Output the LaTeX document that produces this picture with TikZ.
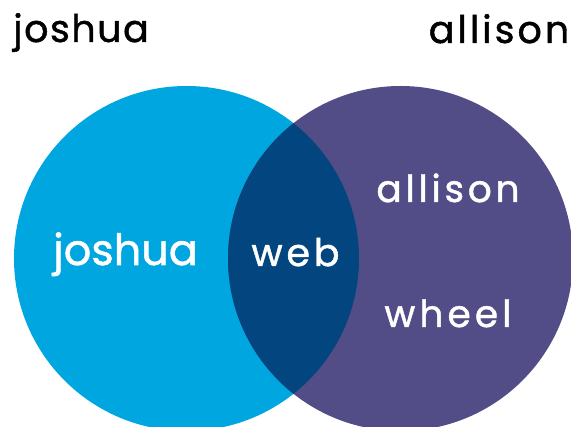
\documentclass[tikz,border=0pt]{standalone}
\usepackage{fontspec}
\setmainfont{Poppins}[FakeBold=1.2]
\definecolor{jcyan}{HTML}{00A6E0}
\definecolor{apurple}{HTML}{524D87}
\definecolor{wnavy}{HTML}{03457F}
\newcommand{\vfnt}[2]{\fontsize{#1}{#1}\selectfont\addfontfeature{LetterSpace=#2}}
\begin{document}
\begin{tikzpicture}[x=1pt,y=-1pt,
  lbl/.style={anchor=base,inner sep=0pt},
  title/.style={lbl,text=black},
  inner/.style={lbl,text=white}]
\useasboundingbox (0,0) rectangle (571,427);
\begin{scope}
\clip (0,0) rectangle (571,427);
\fill[jcyan] (186.5,258.5) circle[radius=172.5];
\fill[apurple] (400.5,258.5) circle[radius=172.5];
\begin{scope}
\clip (186.5,258.5) circle[radius=172.5];
\fill[wnavy] (400.5,258.5) circle[radius=172.5];
\end{scope}
\end{scope}
\node[title,font=\vfnt{38}{4}] (tj) at (81,42) {joshua};
\node[title,font=\vfnt{38}{8}] (ta) at (499,43) {allison};
\node[inner,font=\vfnt{43}{0}] (ij) at (125.5,265) {joshua};
\node[inner,font=\vfnt{38}{10}] (w) at (295.5,266) {web};
\node[inner,font=\vfnt{37.5}{10}] (ia) at (448,202) {allison};
\node[inner,font=\vfnt{37.5}{11}] (wh) at (448,327) {wheel};
\end{tikzpicture}
\end{document}
